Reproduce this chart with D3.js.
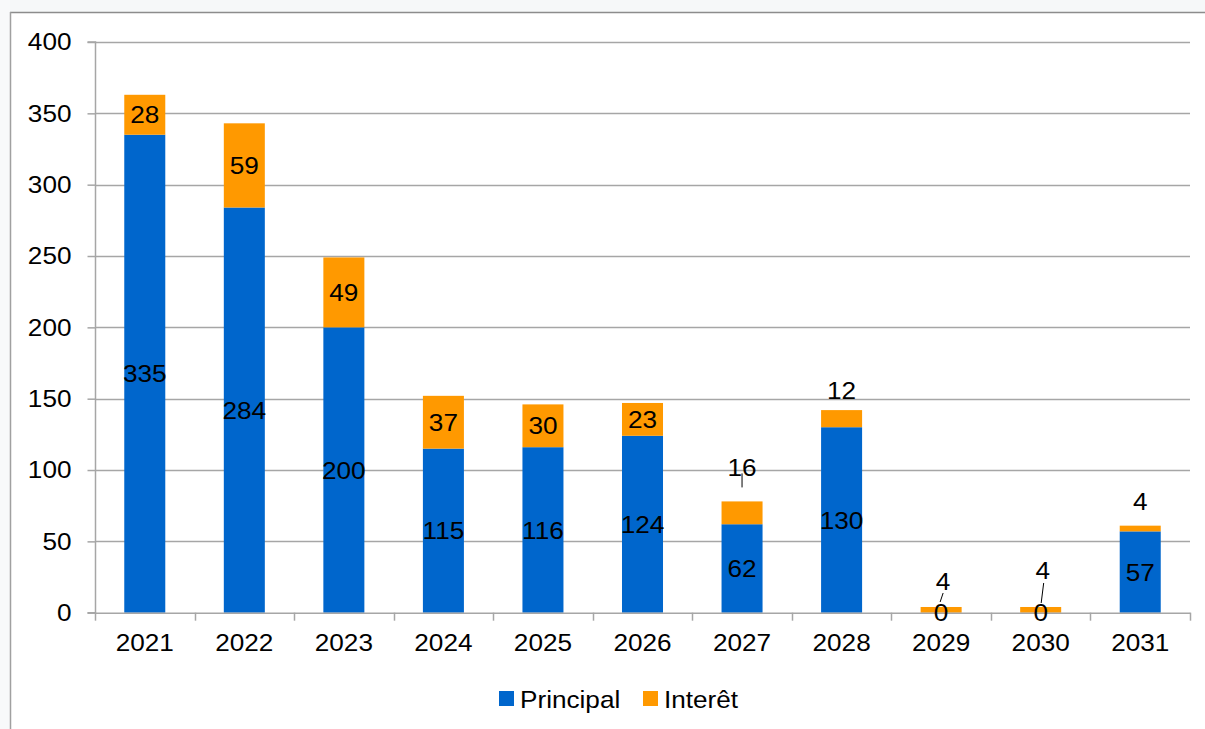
<!DOCTYPE html>
<html>
<head>
<meta charset="utf-8">
<script src="https://cdn.jsdelivr.net/npm/d3@7"></script>
<style>
  html, body { margin: 0; padding: 0; background: #fff; }
  svg { display: block; font-family: "Liberation Sans", Arial, sans-serif; }
  .sx { transform-box: fill-box; transform: scaleX(1.09); }
  .sx-c { transform-origin: center; }
  .sx-r { transform-origin: right; }
  .sx-l { transform-origin: left; }
</style>
</head>
<body>
<svg id="chart" width="1205" height="729"></svg>
<script>
// ---- data ----
const years = ["2021","2022","2023","2024","2025","2026","2027","2028","2029","2030","2031"];
const principal = [335, 284, 200, 115, 116, 124, 62, 130, 0, 0, 57];
const interet = [28, 59, 49, 37, 30, 23, 16, 12, 4, 4, 4];
const yTicks = [0, 50, 100, 150, 200, 250, 300, 350, 400];
const seriesNames = ["Principal", "Interêt"];

// ---- layout / style (not data) ----
const colors = { "Principal": "#0066CC", "Interêt": "#FF9900" };
const margin = { left: 95, right: 15, top: 42, bottom: 116 };
const W = 1205, H = 729;
// label nudges for small segments (pixel offsets from segment center) + leader lines
const interetLabelNudge = {
  "2027": { dy: -45, leader: [[0, -28], [0, -14]] },
  "2028": { dy: -28 },
  "2029": { dx: 2, dy: -28, leader: [[2, -14], [-1, -5]] },
  "2030": { dx: 2, dy: -39, leader: [[3, -24], [0.5, -4]] },
  "2031": { dy: -27 }
};

const svg = d3.select("#chart");

// background decoration
svg.append("rect").attr("x", 0).attr("y", 0).attr("width", W).attr("height", H).attr("fill", "#ffffff");
svg.append("rect").attr("x", 0).attr("y", 0).attr("width", W).attr("height", 12).attr("fill", "#f6f8f9");
svg.append("rect").attr("x", 0).attr("y", 0).attr("width", 10).attr("height", H).attr("fill", "#f8f9fa");
svg.append("line").attr("x1", 10).attr("x2", W).attr("y1", 12.5).attr("y2", 12.5)
  .attr("stroke", "#8c8c8c").attr("stroke-width", 1.5);
svg.append("line").attr("x1", 10.5).attr("x2", 10.5).attr("y1", 12).attr("y2", H)
  .attr("stroke", "#a0a0a0").attr("stroke-width", 1.5);

const x = d3.scaleBand().domain(years).range([margin.left, W - margin.right]).paddingInner(0.588).paddingOuter(0.294);
const xb = d3.scaleBand().domain(years).range([margin.left, W - margin.right]);
const y = d3.scaleLinear().domain([0, 400]).range([H - margin.bottom - 0.3, margin.top]);

// gridlines
svg.append("g").selectAll("line").data(yTicks.filter(d => d > 0)).join("line")
  .attr("x1", margin.left).attr("x2", W - margin.right)
  .attr("y1", d => Math.round(y(d)) + 0.5).attr("y2", d => Math.round(y(d)) + 0.5)
  .attr("stroke", "#a6a6a6").attr("stroke-width", 1.5);

// y axis
const yAxis = d3.axisLeft(y).tickValues(yTicks).tickSize(8).tickPadding(16).tickFormat(d3.format("d"));
const gy = svg.append("g").attr("transform", `translate(${margin.left + 0.5},0)`).call(yAxis);
gy.select(".domain").attr("stroke", "#a6a6a6").attr("stroke-width", 1.5).attr("d", `M-8,${y(0)}H0V${y(400)}H-8`);
gy.selectAll(".tick line").attr("stroke", "#a6a6a6").attr("stroke-width", 1.5);
gy.selectAll(".tick text").attr("font-size", 24).attr("fill", "#000").attr("font-family", "Liberation Sans, Arial, sans-serif")
  .attr("class", "sx sx-r");

// stacked data
const rows = years.map((yr, i) => ({ year: yr, Principal: principal[i], "Interêt": interet[i] }));
const stack = d3.stack().keys(seriesNames)(rows);

const bars = svg.append("g");
stack.forEach(layer => {
  bars.append("g").attr("fill", colors[layer.key]).selectAll("rect").data(layer).join("rect")
    .attr("x", d => x(d.data.year))
    .attr("width", x.bandwidth())
    .attr("y", d => y(d[1]))
    .attr("height", d => Math.max(0, y(d[0]) - y(d[1])));
});

// x axis
const xAxis = d3.axisBottom(xb).tickSize(0).tickPadding(21);
const gx = svg.append("g").attr("transform", `translate(0,${y(0)})`).call(xAxis);
gx.select(".domain").attr("stroke", "#a6a6a6").attr("stroke-width", 1.5);
gx.selectAll(".tick text").attr("font-size", 24).attr("fill", "#000").attr("font-family", "Liberation Sans, Arial, sans-serif")
  .attr("class", "sx sx-c");
// boundary tick marks
svg.append("g").selectAll("line").data(d3.range(years.length + 1)).join("line")
  .attr("x1", i => Math.round(margin.left + i * xb.step()) + 0.5)
  .attr("x2", i => Math.round(margin.left + i * xb.step()) + 0.5)
  .attr("y1", y(0)).attr("y2", y(0) + 8)
  .attr("stroke", "#a6a6a6").attr("stroke-width", 1.5);

// data labels
const labels = svg.append("g").attr("font-size", 24).attr("fill", "#000").attr("text-anchor", "middle");
stack.forEach(layer => {
  layer.forEach(d => {
    const cx = x(d.data.year) + x.bandwidth() / 2;
    const cy = (y(d[0]) + y(d[1])) / 2;
    let dx = 0, dy = 0, leader = null;
    if (layer.key === "Interêt" && interetLabelNudge[d.data.year]) {
      const n = interetLabelNudge[d.data.year];
      dx = n.dx || 0; dy = n.dy || 0; leader = n.leader || null;
    }
    labels.append("text").attr("x", cx + dx).attr("y", cy + dy).attr("dy", "0.36em")
      .attr("class", "sx sx-c")
      .text(d.data[layer.key]);
    if (leader) {
      svg.append("line")
        .attr("x1", cx + leader[0][0]).attr("y1", y(d[1]) + leader[0][1])
        .attr("x2", cx + leader[1][0]).attr("y2", y(d[1]) + leader[1][1])
        .attr("stroke", "#000").attr("stroke-width", 1);
    }
  });
});

// legend
const legend = svg.append("g").attr("font-size", 24);
const legX = [499, 643];
seriesNames.forEach((s, i) => {
  legend.append("rect").attr("x", legX[i]).attr("y", 691).attr("width", 15).attr("height", 15).attr("fill", colors[s]);
  legend.append("text").attr("x", legX[i] + 21).attr("y", 699).attr("dy", "0.36em").attr("fill", "#000")
    .attr("class", "sx sx-l").text(s);
});
</script>
</body>
</html>
